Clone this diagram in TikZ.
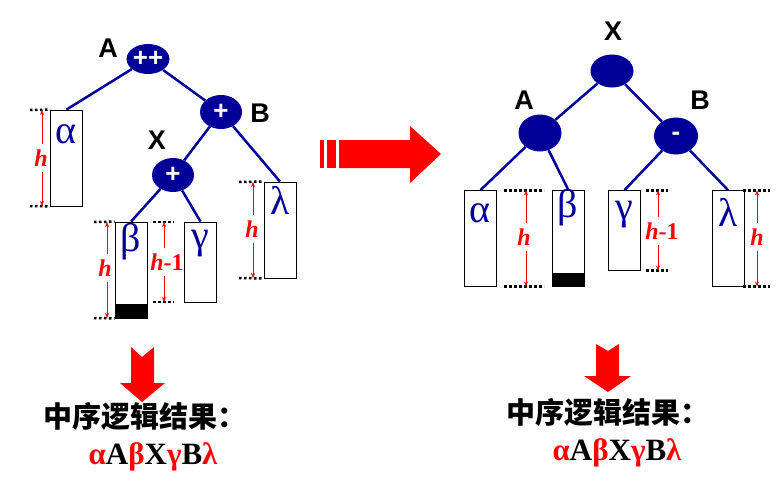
\documentclass[tikz,border=0pt]{standalone}
\usepackage{fontspec}
\setmainfont{Liberation Serif}
\setsansfont{Liberation Sans}
\newfontfamily\cjk{Noto Sans CJK SC}
\usetikzlibrary{shapes.geometric,arrows.meta}
\definecolor{navy}{RGB}{0,0,153}

\begin{document}
\begin{tikzpicture}[x=1pt,y=-1pt,
  avl/.style={ellipse,fill=navy,minimum width=42pt,minimum height=34pt,inner sep=0pt,
    text=white,font=\sffamily\bfseries\fontsize{26}{26}\selectfont},
  tag/.style={font=\sffamily\bfseries\fontsize{27}{27}\selectfont},
  leafbox/.style={draw,line width=0.8pt,minimum width=32pt,minimum height=96pt,inner sep=0pt},
  greek/.style={text=navy,font=\fontsize{40}{40}\selectfont,inner sep=0pt},
  link/.style={navy,line width=2.5pt},
  hlabel/.style={text=red,font=\bfseries\fontsize{24}{24}\selectfont,inner sep=5pt},
  hdim/.style={red,line width=0.6pt,-{Stealth[length=5pt,width=4pt]}},
  dots/.style={line width=2.5pt,dash pattern=on 2.5pt off 2.5pt},
  result/.style={font=\bfseries\fontsize{31}{31}\selectfont}
]
  \useasboundingbox (0,0) rectangle (783,501);

  % Left tree: nodes
  \node[avl,minimum height=30pt] (lA) at (148,59) {++};
  \node[avl] (lB) at (221,112) {+};
  \node[avl] (lX) at (173,175) {+};
  \node[tag] (tlA) at (108,48) {A};
  \node[tag] (tlB) at (260,113) {B};
  \node[tag] (tlX) at (157,140) {X};

  % Left tree: subtrees
  \node[leafbox] (lalpha) at (66.5,158) {};
  \node[leafbox] (lbeta) at (131,270) {};
  \node[leafbox,minimum height=80pt] (lgamma) at (200.5,262) {};
  \node[leafbox] (llambda) at (280,230) {};
  \fill (lbeta.south west) rectangle ++(32,-14);
  \node[greek] (glalpha) at (66,134) {α};
  \node[greek] (glbeta) at (131,242) {β};
  \node[greek] (glgamma) at (200,244) {γ};
  \node[greek] (gllambda) at (280,200) {λ};

  % Left tree: links
  \draw[link] (lA) -- (lalpha.north);
  \draw[link] (lA) -- (lB);
  \draw[link] (lB) -- (lX);
  \draw[link] (lB) -- (llambda.north);
  \draw[link] (lX) -- (lbeta.north);
  \draw[link] (lX) -- (lgamma.north);

  % Left tree: heights
  \draw[dots] (30,110) -- (lalpha.north west);
  \draw[dots] (30,206) -- (lalpha.south west);
  \draw[dots] (94,222) -- (lbeta.north west);
  \draw[dots] (94,318) -- (lbeta.south west);
  \draw[dots] (153,222) -- (174,222);
  \draw[dots] (153,302) -- (174,302);
  \draw[dots] (239,182) -- (llambda.north west);
  \draw[dots] (239,278) -- (llambda.south west);
  \coordinate (la1) at (42,110);
  \coordinate (la2) at (42,206);
  \coordinate (lb1) at (107,222);
  \coordinate (lb2) at (107,318);
  \coordinate (lg1) at (164,222);
  \coordinate (lg2) at (164,302);
  \coordinate (ll1) at (253,182);
  \coordinate (ll2) at (253,278);
  \node[hlabel] (hla) at (41,158) {\itshape h};
  \node[hlabel] (hlb) at (105,268) {\itshape h};
  \node[hlabel] (hlg) at (167,262) {{\itshape h}-1};
  \node[hlabel] (hll) at (252,229) {\itshape h};
  \draw[hdim] (hla.north -| la1) -- (la1);
  \draw[hdim] (hla.south -| la2) -- (la2);
  \draw[hdim] (hlb.north -| lb1) -- (lb1);
  \draw[hdim] (hlb.south -| lb2) -- (lb2);
  \draw[hdim] (hlg.north -| lg1) -- (lg1);
  \draw[hdim] (hlg.south -| lg2) -- (lg2);
  \draw[hdim] (hll.north -| ll1) -- (ll1);
  \draw[hdim] (hll.south -| ll2) -- (ll2);

  % Rotation arrow
  \fill[red] (320,140) rectangle (324,168);
  \fill[red] (327,140) rectangle (336,168);
  \fill[red] (339,140) -- (410,140) -- (410,126) -- (441,154) -- (410,183) -- (410,168) -- (339,168) -- cycle;

  % Right tree: nodes
  \node[avl,minimum width=43pt,minimum height=33pt] (rX) at (612,71) {};
  \node[avl,minimum width=43pt,minimum height=37pt] (rA) at (540,133) {};
  \node[avl,minimum width=44pt,minimum height=37pt] (rB) at (676,136) {-};
  \node[tag] (trX) at (613,31) {X};
  \node[tag] (trA) at (524,100) {A};
  \node[tag] (trB) at (700,100) {B};

  % Right tree: subtrees
  \node[leafbox] (ralpha) at (480.5,238.5) {};
  \node[leafbox] (rbeta) at (568.5,238.5) {};
  \node[leafbox,minimum height=80pt] (rgamma) at (624.5,230.5) {};
  \node[leafbox] (rlambda) at (728,238.5) {};
  \fill (rbeta.south west) rectangle ++(32,-14);
  \node[greek] (gralpha) at (480,213) {α};
  \node[greek] (grbeta) at (568,208) {β};
  \node[greek] (grgamma) at (624,215) {γ};
  \node[greek] (grlambda) at (728,212) {λ};

  % Right tree: links
  \draw[link] (rX) -- (rA);
  \draw[link] (rX) -- (rB);
  \draw[link] (rA) -- (ralpha.north);
  \draw[link] (rA) -- (rbeta.north);
  \draw[link] (rB) -- (rgamma.north);
  \draw[link] (rB) -- (rlambda.north);

  % Right tree: heights
  \draw[dots] (504,190.5) -- (544,190.5);
  \draw[dots] (504,286.5) -- (544,286.5);
  \draw[dots] (646,190.5) -- (668,190.5);
  \draw[dots] (646,270.5) -- (668,270.5);
  \draw[dots] (743,190.5) -- (770,190.5);
  \draw[dots] (743,286.5) -- (770,286.5);
  \coordinate (rab1) at (526,190.5);
  \coordinate (rab2) at (526,286.5);
  \coordinate (rg1) at (658,190.5);
  \coordinate (rg2) at (658,270.5);
  \coordinate (rl1) at (757,190.5);
  \coordinate (rl2) at (757,286.5);
  \node[hlabel] (hrab) at (524,237) {\itshape h};
  \node[hlabel] (hrg) at (662,231) {{\itshape h}-1};
  \node[hlabel] (hrl) at (757,237) {\itshape h};
  \draw[hdim] (hrab.north -| rab1) -- (rab1);
  \draw[hdim] (hrab.south -| rab2) -- (rab2);
  \draw[hdim] (hrg.north -| rg1) -- (rg1);
  \draw[hdim] (hrg.south -| rg2) -- (rg2);
  \draw[hdim] (hrl.north -| rl1) -- (rl1);
  \draw[hdim] (hrl.south -| rl2) -- (rl2);

  % Down arrows
  \fill[red] (131,347) -- (142,357) -- (154,347) -- (154,383) -- (165,383) -- (142,402) -- (120,383) -- (131,383) -- cycle;
  \fill[red] (596,344) -- (608,351) -- (619,344) -- (619,376) -- (631,376) -- (608,392) -- (584,376) -- (596,376) -- cycle;

  % Results
  \node (lres) at (145,416) {\cjk\bfseries\fontsize{29}{29}\selectfont 中序逻辑结果：};
  \node[result] (lseq) at (153,457) {\textcolor{red}{α}A\textcolor{red}{β}X\textcolor{red}{γ}B\textcolor{red}{λ}};
  \node (rres) at (608,412) {\cjk\bfseries\fontsize{29}{29}\selectfont 中序逻辑结果：};
  \node[result] (rseq) at (617,453) {\textcolor{red}{α}A\textcolor{red}{β}X\textcolor{red}{γ}B\textcolor{red}{λ}};

\end{tikzpicture}
\end{document}
